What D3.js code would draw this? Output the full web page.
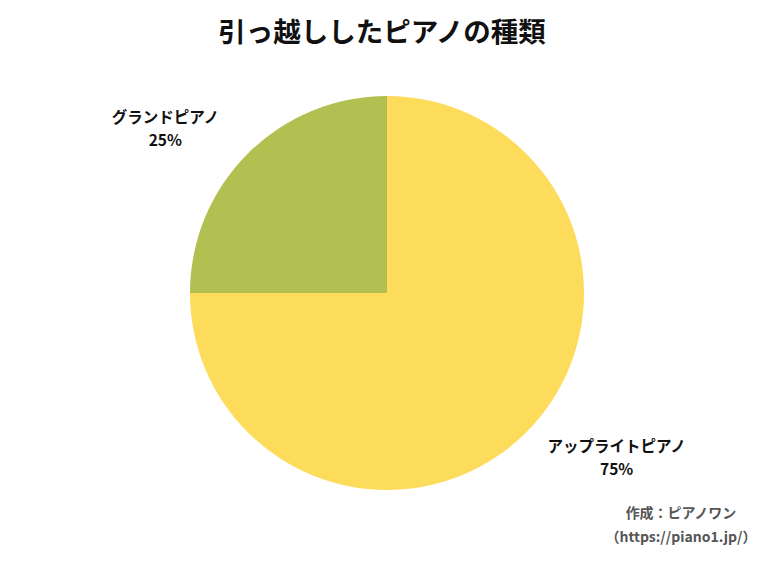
<!DOCTYPE html>
<html>
<head>
<meta charset="utf-8">
<script src="https://cdn.jsdelivr.net/npm/d3@7"></script>
<style>
  body { margin: 0; background: #fff; }
  text { font-family: "Noto Sans CJK JP", "Noto Sans", sans-serif; font-weight: bold; }
</style>
</head>
<body>
<div id="chart"></div>
<script>
var categories = ["アップライトピアノ", "グランドピアノ"];
var values = [75, 25];
var colors = ["#fddc5c", "#b1c050"];

var width = 780, height = 563;
var cx = 387, cy = 293, radius = 197;

var svg = d3.select("#chart")
    .append("svg")
    .attr("width", width)
    .attr("height", height);

svg.append("text")
    .attr("x", 382)
    .attr("y", 42)
    .attr("text-anchor", "middle")
    .attr("font-size", "27.5px")
    .attr("fill", "#111")
    .text("引っ越ししたピアノの種類");

var data = categories.map(function(c, i) {
    return { name: c, value: values[i], color: colors[i] };
});

var pie = d3.pie()
    .sort(null)
    .value(function(d) { return d.value; });

var arc = d3.arc()
    .innerRadius(0)
    .outerRadius(radius);

var g = svg.append("g")
    .attr("transform", "translate(" + cx + "," + cy + ")");

var arcs = pie(data);

g.selectAll("path")
    .data(arcs)
    .enter()
    .append("path")
    .attr("d", arc)
    .attr("fill", function(d) { return d.data.color; });

// labels sit out past the rim, a bit stretched sideways
var total = d3.sum(values);
var label = g.selectAll(".label")
    .data(arcs)
    .enter()
    .append("text")
    .attr("class", "label")
    .attr("text-anchor", "middle")
    .attr("font-size", "15.5px")
    .attr("fill", "#111")
    .attr("transform", function(d) {
        var a = (d.startAngle + d.endAngle) / 2;
        var x = Math.sin(a) * radius * 1.62 + 4;
        var y = -Math.cos(a) * radius * 1.18;
        return "translate(" + x + "," + y + ")";
    });

label.append("tspan")
    .attr("x", 0)
    .attr("dy", "-0.35em")
    .text(function(d) { return d.data.name; });

label.append("tspan")
    .attr("x", 0)
    .attr("dy", "1.5em")
    .text(function(d) { return Math.round(d.data.value / total * 100) + "%"; });

svg.append("text")
    .attr("x", 681)
    .attr("y", 518)
    .attr("text-anchor", "middle")
    .attr("font-size", "14px")
    .attr("fill", "#555")
    .text("作成：ピアノワン");

svg.append("text")
    .attr("x", 681)
    .attr("y", 542)
    .attr("text-anchor", "middle")
    .attr("font-size", "14px")
    .attr("fill", "#555")
    .text("（https://piano1.jp/）");
</script>
</body>
</html>
